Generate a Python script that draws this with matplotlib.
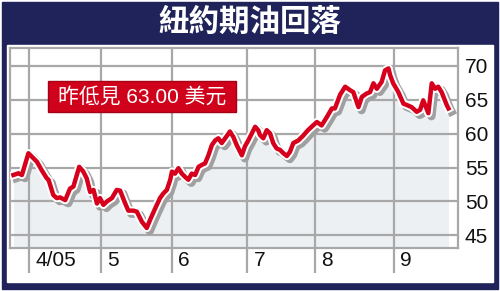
import matplotlib
matplotlib.use('Agg')
import matplotlib.pyplot as plt
import matplotlib.patheffects as pe
from matplotlib.patches import Rectangle

plt.rcParams['font.family'] = ['Liberation Sans', 'Noto Sans CJK TC', 'DejaVu Sans']

# 資料 (交易日序號, 4/1 = 0)
title = '紐約期油回落'
note = '昨低見 63.00 美元'
month_pos = [0, 21, 42, 64, 84, 107]
month_labels = ['4/05', '5', '6', '7', '8', '9']
y_ticks = [45, 50, 55, 60, 65, 70]

day = [-4.6, -3.1, -2.1, -0.2, 0.8, 2.3, 3.7, 5.2, 5.7, 7.1, 8.1, 9.1, 10.6, 12.0, 13.0,
       14.7, 15.9, 16.9, 17.9, 18.9, 19.9, 20.8, 21.8, 22.8, 24.3, 25.7, 26.7, 28.2, 29.1,
       30.6, 31.6, 33.1, 34.5, 35.5, 37.0, 38.4, 39.4, 40.4, 41.4, 41.9, 42.8, 43.8, 44.8,
       45.8, 46.7, 47.7, 48.7, 49.7, 50.7, 51.6, 52.6, 53.6, 54.6, 55.5, 56.5, 57.5, 58.9,
       59.9, 60.9, 62.4, 63.3, 64.3, 65.3, 66.3, 67.2, 67.7, 68.7, 69.7, 70.7, 71.6, 72.6,
       73.6, 74.6, 75.6, 76.5, 77.5, 79.0, 80.4, 81.8, 83.3, 84.4, 85.8, 87.3, 88.8, 89.7,
       91.2, 92.7, 94.1, 95.1, 96.6, 97.6, 99.0, 100.0, 101.0, 102.0, 103.4, 104.4, 105.4,
       105.9, 106.8, 108.3, 109.8, 110.8, 112.2, 113.7, 114.7, 115.6, 117.1, 118.1, 119.1,
       120.0, 121.0, 122.5, 123.0]
price = [53.9, 54.15, 53.9, 57.1, 56.6, 55.85, 54.6, 53.4, 53.2, 50.95, 50.5, 50.6, 50.2,
         51.9, 52.2, 55.1, 54.4, 53.4, 51.4, 51.7, 49.7, 50.5, 49.5, 50.0, 50.5, 51.7, 51.6,
         49.7, 48.65, 48.65, 48.5, 47.0, 46.1, 47.3, 49.0, 50.5, 51.2, 51.7, 53.2, 54.4,
         54.1, 54.9, 54.1, 53.6, 53.2, 54.1, 53.9, 55.1, 55.4, 55.6, 56.8, 58.3, 59.0, 59.3,
         58.6, 59.3, 60.3, 59.5, 58.3, 56.8, 58.1, 59.0, 60.0, 61.0, 60.5, 59.8, 59.3, 60.5,
         60.0, 58.6, 57.8, 57.6, 57.1, 56.7, 57.3, 58.6, 59.0, 59.7, 60.5, 61.2, 61.7, 61.2,
         62.4, 63.7, 63.7, 65.7, 66.9, 66.4, 66.1, 63.9, 65.4, 65.9, 66.1, 67.4, 66.6, 67.6,
         69.3, 69.6, 68.6, 67.4, 66.1, 64.4, 64.2, 63.9, 63.2, 63.5, 64.9, 63.0, 67.4, 66.6,
         66.9, 66.1, 64.2, 63.7]

W, H = 500, 291
navy = '#1f2359'
red = '#d6001c'
grid_c = '#a8a8a8'


def box(x0, y0, x1, y1):
    # 像素 -> figure 座標
    return [x0 / W, 1 - y1 / H, (x1 - x0) / W, (y1 - y0) / H]


fig = plt.figure(figsize=(5, 2.91), dpi=100)
fig.patch.set_facecolor('white')

b = box(2, 2, 498, 289)
fig.add_artist(Rectangle((b[0], b[1]), b[2], b[3], transform=fig.transFigure,
                         color=navy, zorder=0))
b = box(7, 45, 493, 282)
fig.add_artist(Rectangle((b[0], b[1]), b[2], b[3], transform=fig.transFigure,
                         color='white', zorder=0))

fig.text(0.5, 1 - 22 / H, title, ha='center', va='center', color='white',
         fontsize=22, fontweight='bold', family=['Noto Sans CJK TC'])

ax = fig.add_axes(box(10, 48, 458, 248))
ax.set_facecolor('white')
ax.fill_between(day, price, 40, color='#edf0f3', lw=0, zorder=1)
ax.plot(day, price, color=red, lw=3.2, zorder=3,
        path_effects=[pe.Stroke(offset=(2.2, -2.2), linewidth=6, foreground='#a0a0a0'),
                      pe.Stroke(linewidth=6, foreground='white'),
                      pe.Normal()])

ax.set_xlim(-5.6, 125.8)
ax.set_ylim(43.15, 72.6)
ax.set_xticks(month_pos)
ax.set_yticks(y_ticks)
ax.grid(color=grid_c, lw=1.6)
for s in ax.spines.values():
    s.set_color(grid_c)
    s.set_linewidth(1.6)

ax.tick_params(axis='x', length=18, width=1.6, color=grid_c, labelbottom=False)
ax.yaxis.tick_right()
ax.tick_params(axis='y', length=0, pad=5, labelsize=15, labelcolor='#111111')

for m, lab in zip(month_pos, month_labels):
    ax.text(m + 1.8, -0.06, lab, transform=ax.get_xaxis_transform(),
            ha='left', va='center', fontsize=15, color='#111111')

b = box(48, 81, 236, 112)
fig.add_artist(Rectangle((b[0], b[1]), b[2], b[3], transform=fig.transFigure,
                         facecolor='#d0021b', edgecolor='#a50016', lw=1, zorder=5))
fig.text(142 / W, 1 - 97 / H, note, ha='center', va='center', color='white',
         fontsize=15, zorder=6)

fig.savefig('out.png', dpi=100)
